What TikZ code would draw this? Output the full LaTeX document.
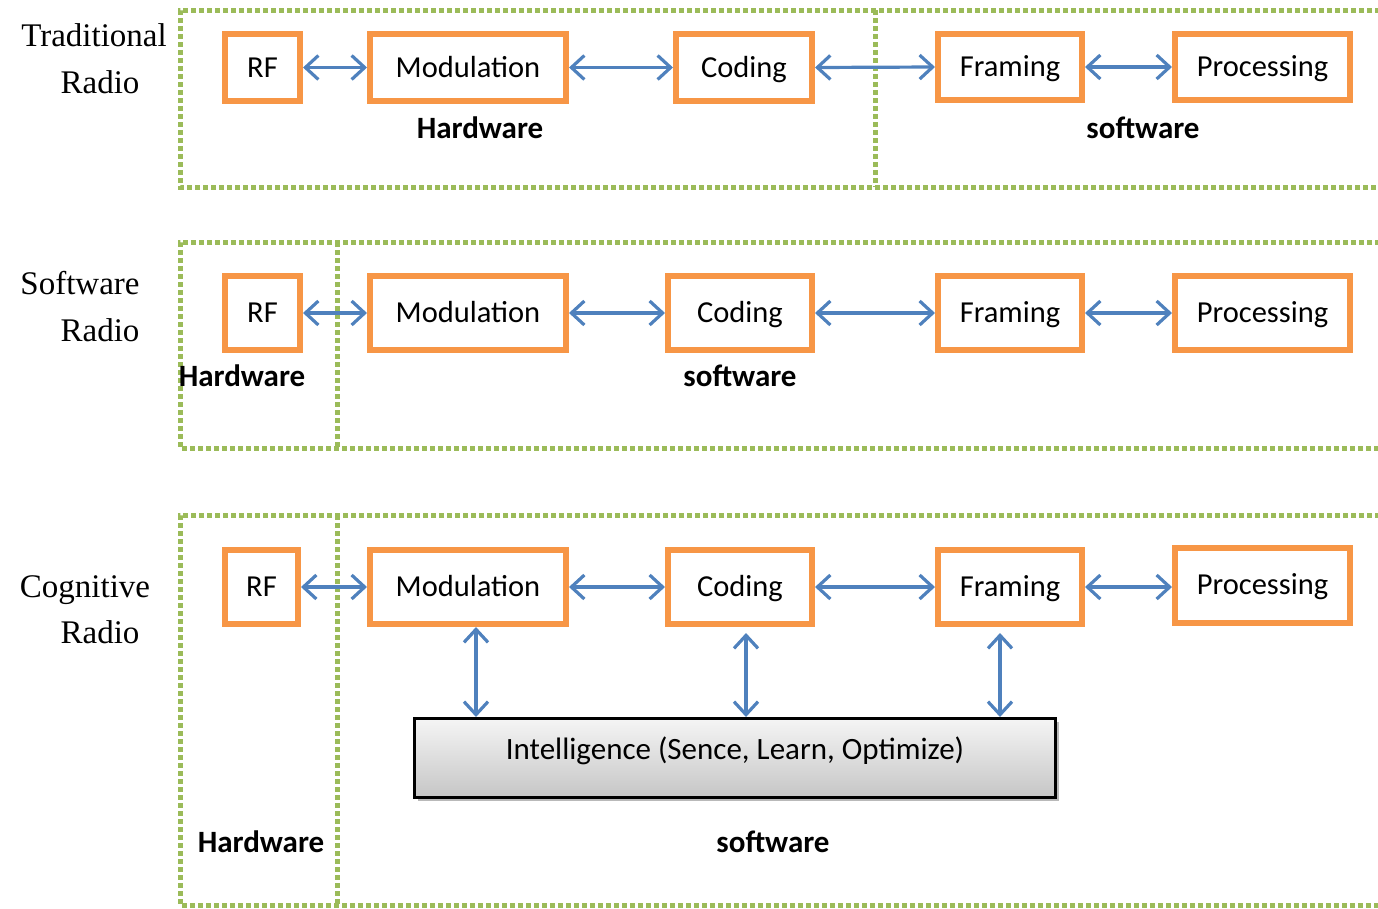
\documentclass[tikz,border=0pt]{standalone}
\usepackage{fontspec}
\setmainfont{Carlito}
\newfontfamily\serifside{Liberation Serif}
\usetikzlibrary{arrows.meta,shadows}
\definecolor{orgc}{HTML}{F79646}
\definecolor{bluec}{HTML}{4F81BD}
\definecolor{greenc}{HTML}{9BBB59}
\begin{document}
\begin{tikzpicture}[x=1pt,y=-1pt,
  blk/.style={draw=orgc, line width=6pt, fill=white, inner sep=0pt,
    font=\fontsize{30.5}{36}\selectfont, text height=21pt, text depth=2pt},
  lnk/.style={draw=bluec, line width=3.2pt,
    {Straight Barb[length=13pt,width=24pt]}-{Straight Barb[length=13pt,width=24pt]}},
  frame/.style={draw=greenc, line width=5pt, dash pattern=on 5pt off 3pt},
  tag/.style={font=\bfseries\fontsize{31}{36}\selectfont, anchor=base, inner sep=0pt},
  side/.style={font=\serifside\fontsize{33}{40}\selectfont, anchor=base, inner sep=0pt},
  intel/.style={draw=black, line width=3pt, inner sep=0pt, top color=gray!8, bottom color=gray!45,
    drop shadow={shadow xshift=3pt, shadow yshift=-3pt, fill=black!55},
    font=\fontsize{31}{36}\selectfont, text height=21pt, text depth=18pt}]
\useasboundingbox (0,0) rectangle (1378,908);

% ---- frames
\draw[frame] (1380,10) -- (180,10) -- (180,187) -- (1380,187);
\draw[frame] (875,10) -- (875,187);
\draw[frame] (1380,242) -- (180,242) -- (180,448) -- (1380,448);
\draw[frame] (337,242) -- (337,448);
\draw[frame] (1380,515) -- (180,515) -- (180,905) -- (1380,905);
\draw[frame] (337,515) -- (337,905);

% ---- side labels
\node[side] (t1a) at (94,46) {Traditional};
\node[side] (t1b) at (100,93) {Radio};
\node[side] (t2a) at (80,294) {Software};
\node[side] (t2b) at (100,341) {Radio};
\node[side] (t3a) at (85,597) {Cognitive};
\node[side] (t3b) at (100,643) {Radio};

% ---- row 1
\node[blk, minimum width=75pt, minimum height=67pt] (rf1) at (262.5,67.5) {RF};
\node[blk, minimum width=196pt, minimum height=67pt] (mod1) at (468,67.5) {Modulation};
\node[blk, minimum width=136pt, minimum height=67pt] (cod1) at (744,67.5) {Coding};
\node[blk, minimum width=144pt, minimum height=66pt] (fra1) at (1010,67) {Framing};
\node[blk, minimum width=175pt, minimum height=66pt] (pro1) at (1262.5,67) {Processing};
\draw[lnk] (rf1) -- (mod1);
\draw[lnk] (mod1.east) -- (cod1.west);
\draw[lnk] (cod1.east) -- (fra1.west);
\draw[lnk] (fra1.east) -- (pro1.west);
\node[tag] (hw1) at (480,138) {Hardware};
\node[tag] (sw1) at (1143,138) {software};

% ---- row 2
\node[blk, minimum width=75pt, minimum height=74pt] (rf2) at (262.5,313) {RF};
\node[blk, minimum width=196pt, minimum height=74pt] (mod2) at (468,313) {Modulation};
\node[blk, minimum width=144pt, minimum height=74pt] (cod2) at (740,313) {Coding};
\node[blk, minimum width=144pt, minimum height=74pt] (fra2) at (1010,313) {Framing};
\node[blk, minimum width=175pt, minimum height=74pt] (pro2) at (1262.5,313) {Processing};
\draw[lnk] (rf2) -- (mod2);
\draw[lnk] (mod2) -- (cod2);
\draw[lnk] (cod2) -- (fra2);
\draw[lnk] (fra2) -- (pro2);
\node[tag] (hw2) at (242,386) {Hardware};
\node[tag] (sw2) at (740,386) {software};

% ---- row 3
\node[blk, minimum width=73pt, minimum height=74pt] (rf3) at (261.5,587) {RF};
\node[blk, minimum width=196pt, minimum height=74pt] (mod3) at (468,587) {Modulation};
\node[blk, minimum width=144pt, minimum height=74pt] (cod3) at (740,587) {Coding};
\node[blk, minimum width=144pt, minimum height=74pt] (fra3) at (1010,587) {Framing};
\node[blk, minimum width=175pt, minimum height=75pt] (pro3) at (1262.5,585) {Processing};
\draw[lnk] (rf3) -- (mod3);
\draw[lnk] (mod3) -- (cod3);
\draw[lnk] (cod3) -- (fra3);
\draw[lnk] (fra3.east) -- (pro3.west |- fra3.east);

\node[intel, minimum width=641pt, minimum height=79pt] (ai) at (735,758) {Intelligence (Sence, Learn, Optimize)};
\draw[lnk] ([xshift=8pt]mod3.south) -- ([xshift=8pt]mod3.south |- ai.north);
\draw[lnk] ([xshift=6pt,yshift=-6pt]cod3.south) -- ([xshift=6pt]cod3.south |- ai.north);
\draw[lnk] ([xshift=-10pt,yshift=-6pt]fra3.south) -- ([xshift=-10pt]fra3.south |- ai.north);

\node[tag] (hw3) at (261,852) {Hardware};
\node[tag] (sw3) at (773,852) {software};
\end{tikzpicture}
\end{document}
